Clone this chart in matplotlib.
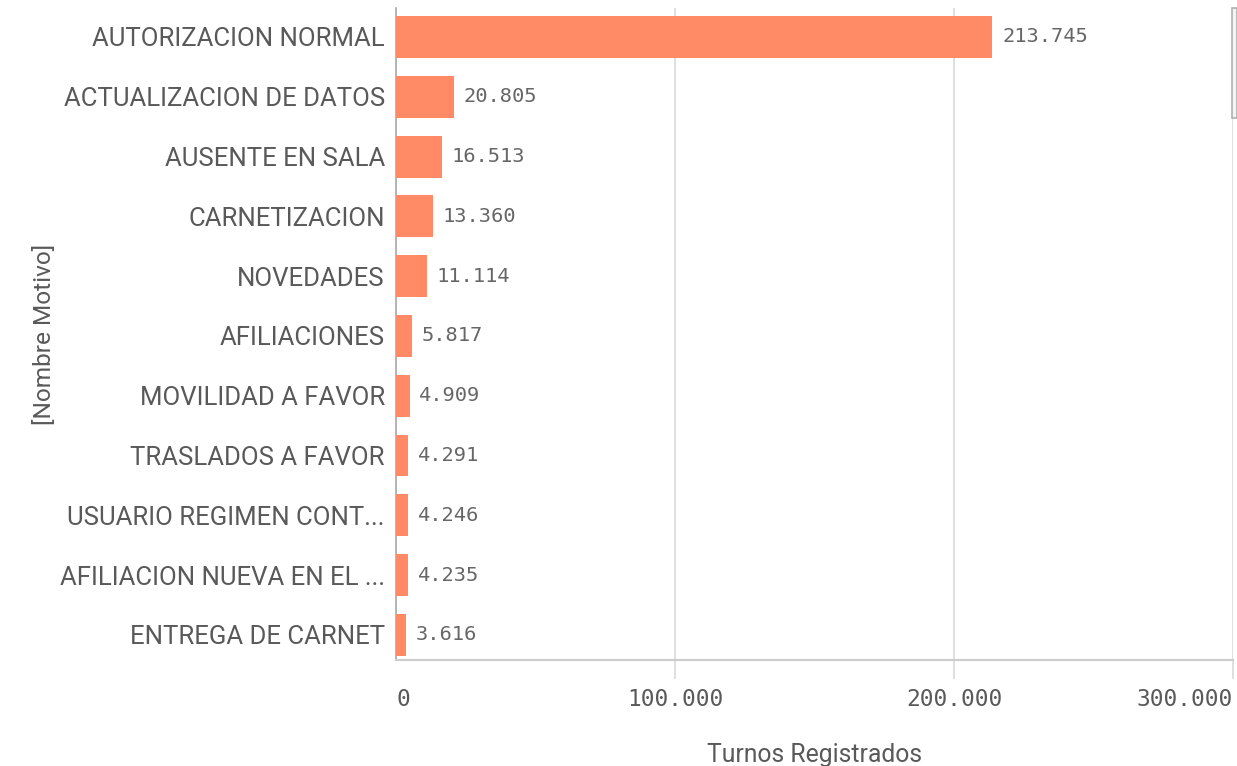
import matplotlib
matplotlib.use("Agg")
import matplotlib.pyplot as plt
from matplotlib.patches import Rectangle

categories = [
    "AUTORIZACION NORMAL",
    "ACTUALIZACION DE DATOS",
    "AUSENTE EN SALA",
    "CARNETIZACION",
    "NOVEDADES",
    "AFILIACIONES",
    "MOVILIDAD A FAVOR",
    "TRASLADOS A FAVOR",
    "USUARIO REGIMEN CONT...",
    "AFILIACION NUEVA EN EL ...",
    "ENTREGA DE CARNET",
]
values = [213745, 20805, 16513, 13360, 11114, 5817, 4909, 4291, 4246, 4235, 3616]
value_labels = ["213.745", "20.805", "16.513", "13.360", "11.114", "5.817",
                "4.909", "4.291", "4.246", "4.235", "3.616"]
x_ticks = [0, 100000, 200000, 300000]
x_tick_labels = ["0", "100.000", "200.000", "300.000"]

BAR = "#FF8A65"
GRID = "#d9d9d9"
TXT = "#595959"

fig = plt.figure(figsize=(12.37, 7.66), dpi=100)
ax = fig.add_axes([396 / 1237, 1 - 660 / 766, (1233 - 396) / 1237, (660 - 8) / 766])

ypos = list(range(len(categories)))
ax.barh(ypos, values, height=0.7, color=BAR, zorder=3)
ax.set_xlim(0, 300000)
ax.set_ylim(10.42, -0.485)

ax.set_yticks(ypos)
ax.set_yticklabels(categories, fontsize=18.5, color=TXT, family="Roboto")
ax.tick_params(axis="y", length=0, pad=8)

ax.set_xticks(x_ticks)
ax.set_xticklabels(x_tick_labels, fontsize=16.4, color=TXT, family="DejaVu Sans Mono")
ax.tick_params(axis="x", length=13.5, color=GRID, width=1.2, pad=7)
ticks = ax.xaxis.get_major_ticks()
ticks[0].tick1line.set_visible(False)
xt = ax.get_xticklabels()
xt[0].set_ha("left")
xt[-1].set_ha("right")

ax.grid(axis="x", color=GRID, linewidth=1.2, zorder=0)
for s in ["top", "right"]:
    ax.spines[s].set_visible(False)
ax.spines["left"].set_color("#aaaaaa")
ax.spines["left"].set_linewidth(1.2)
ax.spines["bottom"].set_color("#cccccc")
ax.spines["bottom"].set_linewidth(1.5)

for y, v, lab in zip(ypos, values, value_labels):
    ax.annotate(lab, (v, y), xytext=(7, 0), textcoords="offset points",
                ha="left", va="center", fontsize=14.7, color="#666666",
                family="DejaVu Sans Mono", zorder=4)

ax.set_xlabel("Turnos Registrados", fontsize=17.8, color=TXT, family="Roboto", labelpad=23)
ax.set_ylabel("[Nombre Motivo]", fontsize=17.6, color=TXT, family="Roboto")
ax.yaxis.set_label_coords((56 - 396) / 837, 0.5)

# mini scrollbar at top right
fig.patches.append(Rectangle((1232 / 1237, 1 - 118 / 766), 5 / 1237, 110 / 766,
                             transform=fig.transFigure, facecolor="#f4f4f4",
                             edgecolor="#b0b0b0", linewidth=1.2))

fig.savefig("out.png", dpi=100)
